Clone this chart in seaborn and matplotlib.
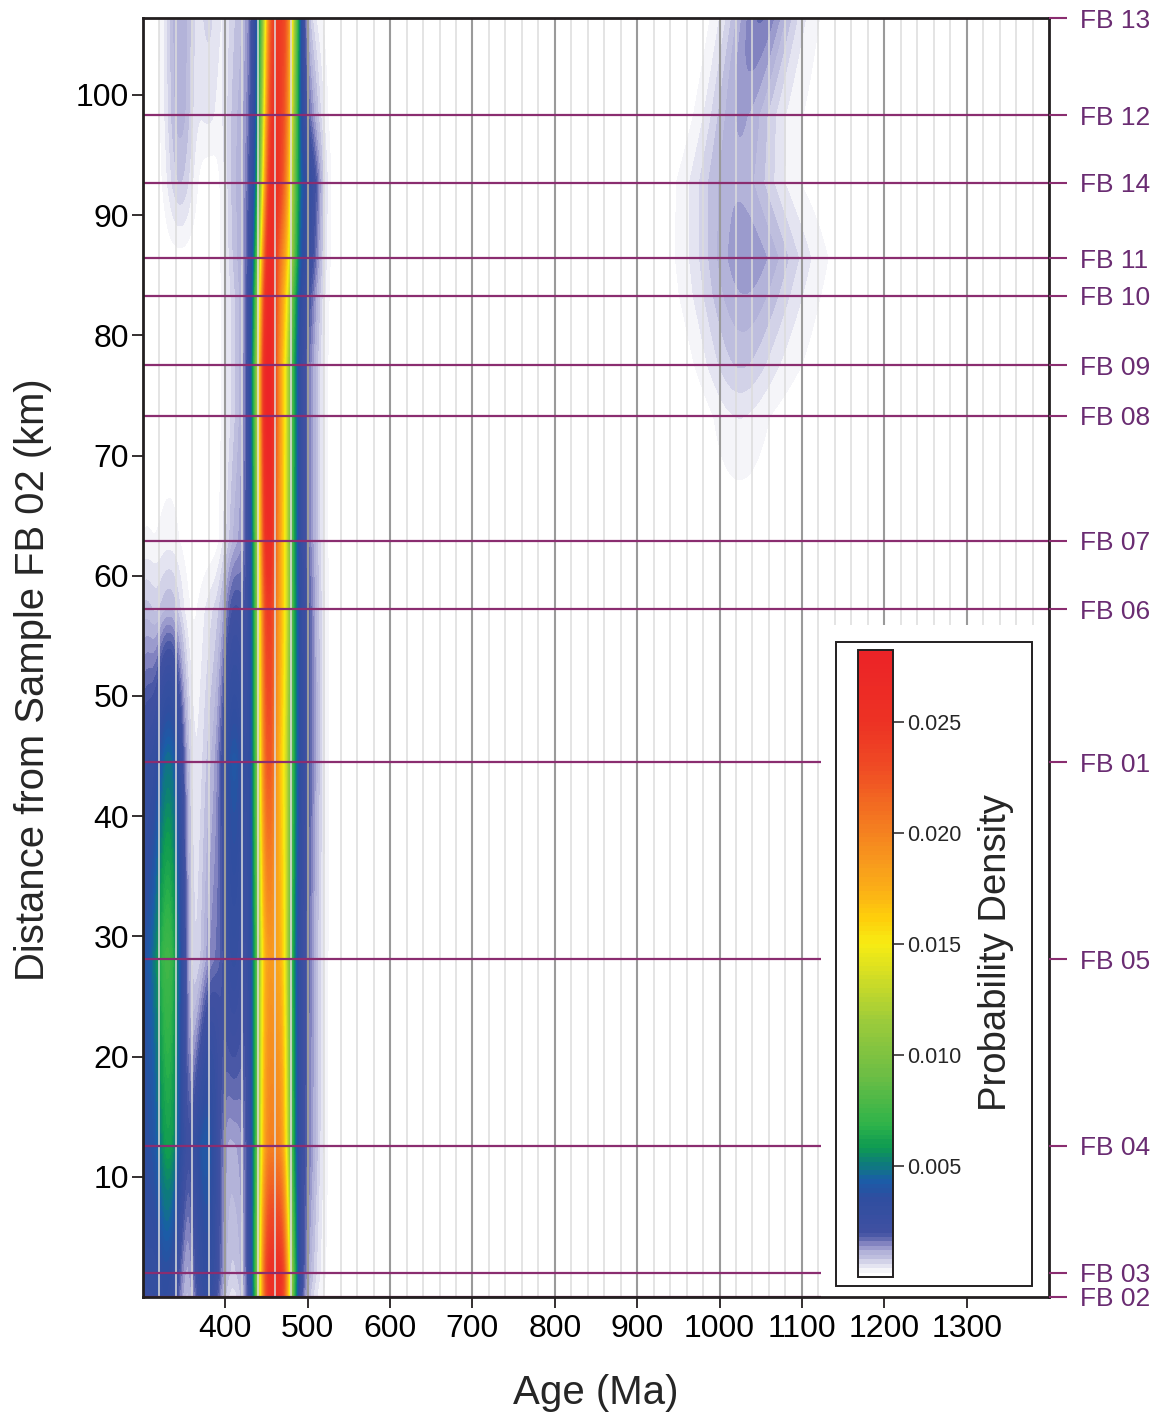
import numpy as np
import matplotlib
matplotlib.use("Agg")
import matplotlib.pyplot as plt
import seaborn as sns
from matplotlib.colors import LinearSegmentedColormap, Normalize
from matplotlib.patches import Rectangle
from matplotlib.ticker import FormatStrFormatter

# ---------------- data ----------------
sample_names = ["FB 02", "FB 03", "FB 04", "FB 05", "FB 01", "FB 06", "FB 07",
                "FB 08", "FB 09", "FB 10", "FB 11", "FB 14", "FB 12", "FB 13"]
sample_km = [0.0, 2.0, 12.6, 28.1, 44.5, 57.2, 62.9, 73.3, 77.5, 83.3, 86.4, 92.7, 98.3, 106.4]

# age-population components per sample (peak age Ma, spread Ma, peak density)
m1_age = [451, 451, 450, 450, 451, 451, 451, 451, 451, 452, 453, 455, 456, 457]
m1_amp = [0.018, 0.018, 0.0135, 0.0125, 0.017, 0.019, 0.021, 0.023, 0.023, 0.022, 0.021, 0.019, 0.018, 0.017]
m2_age = [469, 469, 468, 468, 470, 470, 470, 470, 470, 471, 472, 472, 473, 474]
m2_amp = [0.018, 0.018, 0.013, 0.011, 0.009, 0.010, 0.010, 0.010, 0.010, 0.011, 0.012, 0.014, 0.015, 0.016]
main_sd = 9

ped_age = 461
ped_sd = 24
ped_amp = [0.0035, 0.0038, 0.0040, 0.0042, 0.0045, 0.0042, 0.0040, 0.0040, 0.0040, 0.0040, 0.0040, 0.0038, 0.0035, 0.0032]

tail_age = 500
tail_sd = 12
tail_amp = [0.0, 0.0002, 0.0006, 0.0006, 0.0008, 0.0008, 0.0006, 0.0006, 0.0006, 0.0010, 0.0015, 0.0020, 0.0008, 0.0]

left_age = 410
left_sd = 10
left_amp = [0.0, 0.0002, 0.0006, 0.0022, 0.0035, 0.0015, 0.0006, 0.0003, 0.0003, 0.0003, 0.0004, 0.0005, 0.0005, 0.0004]

c_age = [378, 378, 376, 385, 385, 385, 385, 385, 385, 385, 385, 385, 385, 385]
c_sd = 13
c_amp = [0.0028, 0.0033, 0.0042, 0.0014, 0.0009, 0.0005, 0, 0, 0, 0, 0, 0, 0, 0]

b_age = [328, 329, 331, 330, 331, 332, 332, 332, 332, 332, 332, 332, 332, 332]
b_sd = 13
b_amp = [0.0033, 0.0035, 0.0060, 0.0075, 0.0048, 0.0010, 0.0003, 0, 0, 0, 0, 0, 0, 0]

e_age = 302
e_sd = 10
e_amp = [0.0020, 0.0025, 0.0030, 0.0030, 0.0022, 0.0008, 0.0002, 0, 0, 0, 0, 0, 0, 0]

f_age = 345
f_sd = 13
f_amp = [0, 0, 0, 0, 0, 0, 0, 0, 0, 0, 0.0001, 0.0008, 0.0011, 0.0012]
f2_age = 380
f2_sd = 10
f2_amp = [0, 0, 0, 0, 0, 0, 0, 0, 0, 0, 0, 0, 0.0004, 0.0006]

d1_age = [1022, 1022, 1022, 1022, 1022, 1022, 1022, 1022, 1022, 1024, 1025, 1018, 1025, 1048]
d1_sd = [25, 25, 25, 25, 25, 25, 25, 25, 32, 40, 42, 38, 30, 28]
d1_amp = [0, 0, 0, 0, 0, 0, 0, 0.00035, 0.0007, 0.0010, 0.0011, 0.0011, 0.0011, 0.00135]
d2_age = 1070
d2_sd = 45
d2_amp = [0, 0, 0, 0, 0, 0, 0, 0.0001, 0.0002, 0.0003, 0.0004, 0.0001, 0.0002, 0.0003]

cbar_ticks = [0.005, 0.010, 0.015, 0.020, 0.025]
x_ticks = list(range(400, 1301, 100))
y_ticks = list(range(10, 101, 10))

# ---------------- density field ----------------
ages = np.linspace(300, 1400, 1101)
dist = np.linspace(0, 106.4, 533)
km = np.array(sample_km)

def arr(v):
    return np.full(len(km), float(v)) if np.isscalar(v) else np.asarray(v, float)

components = [
    (m1_age, main_sd, m1_amp), (m2_age, main_sd, m2_amp), (ped_age, ped_sd, ped_amp),
    (tail_age, tail_sd, tail_amp), (left_age, left_sd, left_amp),
    (c_age, c_sd, c_amp), (b_age, b_sd, b_amp), (e_age, e_sd, e_amp),
    (f_age, f_sd, f_amp), (f2_age, f2_sd, f2_amp),
    (d1_age, d1_sd, d1_amp), (d2_age, d2_sd, d2_amp),
]
Z = np.zeros((dist.size, ages.size))
for mu, sd, amp in components:
    mu_d = np.interp(dist, km, arr(mu))[:, None]
    sd_d = np.interp(dist, km, arr(sd))[:, None]
    a_d = np.interp(dist, km, arr(amp))[:, None]
    Z += a_d * np.exp(-(ages[None, :] - mu_d) ** 2 / (2 * sd_d ** 2))

vmax = 0.0284
nodes = [
    (0.0000, "#FFFFFF"), (0.0001, "#FFFFFF"), (0.0003, "#EEEEF6"), (0.0005, "#E0E0EF"),
    (0.0007, "#CFCFE7"), (0.0009, "#BDBDDE"), (0.0011, "#A9A9D4"), (0.0013, "#9393C9"),
    (0.0015, "#7C7EBD"), (0.0017, "#5E66AE"), (0.0020, "#3F50A1"), (0.0036, "#2E4EA0"),
    (0.0043, "#1A5DA8"), (0.0050, "#0E7A7E"), (0.0058, "#0E9A52"), (0.0068, "#2DB34A"),
    (0.0090, "#6BBD45"), (0.0115, "#9CCB3B"), (0.0135, "#D2DD25"), (0.0150, "#F7EC13"),
    (0.0162, "#FECE0B"), (0.0175, "#FBAE17"), (0.0190, "#F7941E"), (0.0210, "#F37021"),
    (0.0230, "#EF4B24"), (0.0250, "#ED3224"), (0.0284, "#EC2227"),
]
cmap = LinearSegmentedColormap.from_list("pd", [(v / vmax, c) for v, c in nodes])
top = max(vmax, Z.max() + 1e-6)
levels = np.arange(0, top + 0.0002, 0.0002)

# ---------------- figure ----------------
sns.set_theme(style="white")
plt.rcParams["font.family"] = ["Liberation Sans", "DejaVu Sans"]
W, H = 1158, 1416
fig = plt.figure(figsize=(W / 100, H / 100), dpi=100)
ax = fig.add_axes([143 / W, 1 - 1297 / H, (1049 - 143) / W, (1297 - 18) / H])

cf = ax.contourf(ages, dist, Z, levels=levels, cmap=cmap, norm=Normalize(0, vmax), zorder=1)

ax.set_xlim(300, 1400)
ax.set_ylim(0, 106.4)
ax.set_xticks(x_ticks)
ax.set_xticks(list(range(300, 1401, 20)), minor=True)
ax.set_yticks(y_ticks)
ax.set_axisbelow(False)
ax.grid(True, which="minor", axis="x", color="#DCDCDC", lw=1.1, zorder=2)
ax.grid(True, which="major", axis="x", color="#9A9A9A", lw=1.5, zorder=2)
ax.grid(False, axis="y")

line_col = "#8A2D70"
for d in sample_km:
    ax.axhline(d, color=line_col, lw=1.6, zorder=3)

# white panel holding the colour scale
ax.add_patch(Rectangle((1123, 0), 1400 - 1123, 55.9, fc="white", ec="none", zorder=4))
ax.add_patch(Rectangle((1141, 0.92), 1379 - 1141, 54.5 - 0.92, fc="white",
                       ec="#231F20", lw=1.4, zorder=5))

for s in ax.spines.values():
    s.set_linewidth(2.0)
    s.set_color("#231F20")
    s.set_zorder(10)

ax.tick_params(axis="both", which="major", direction="out", length=8, width=1.3,
               color="#231F20", labelsize=23, labelcolor="black")
ax.tick_params(axis="x", which="major", pad=4, bottom=True, top=False)
ax.tick_params(axis="y", which="major", pad=2, left=True, right=False)
ax.tick_params(axis="both", which="minor", length=0)
ax.set_xlabel("Age (Ma)", fontsize=29, labelpad=22)
ax.set_ylabel("Distance from Sample FB 02 (km)", fontsize=28.8)
ax.yaxis.set_label_coords(-0.100, 0.483)

# right-hand sample labels
ax2 = ax.twinx()
ax2.set_ylim(ax.get_ylim())
ax2.set_yticks(sample_km)
ax2.set_yticklabels(sample_names)
ax2.tick_params(axis="y", direction="out", length=13, width=1.5, colors=line_col,
                labelcolor="#6A2C72", labelsize=19, pad=9)
for s in ax2.spines.values():
    s.set_visible(False)

# colour bar
cax = fig.add_axes([858 / W, 1 - 1277 / H, 35 / W, 627 / H])
cb = fig.colorbar(cf, cax=cax, ticks=cbar_ticks)
cax.set_ylim(0, 0.02824)
cb.outline.set_linewidth(1.4)
cb.outline.set_edgecolor("#231F20")
cax.yaxis.set_major_formatter(FormatStrFormatter("%.3f"))
cax.tick_params(axis="y", length=8, width=1.1, labelsize=15.5, pad=2, color="#231F20")
cax.minorticks_off()
cb.set_label("Probability Density", fontsize=27.5, labelpad=12)
cax.yaxis.label.set_y(0.518)

fig.savefig("out.png", dpi=100)
